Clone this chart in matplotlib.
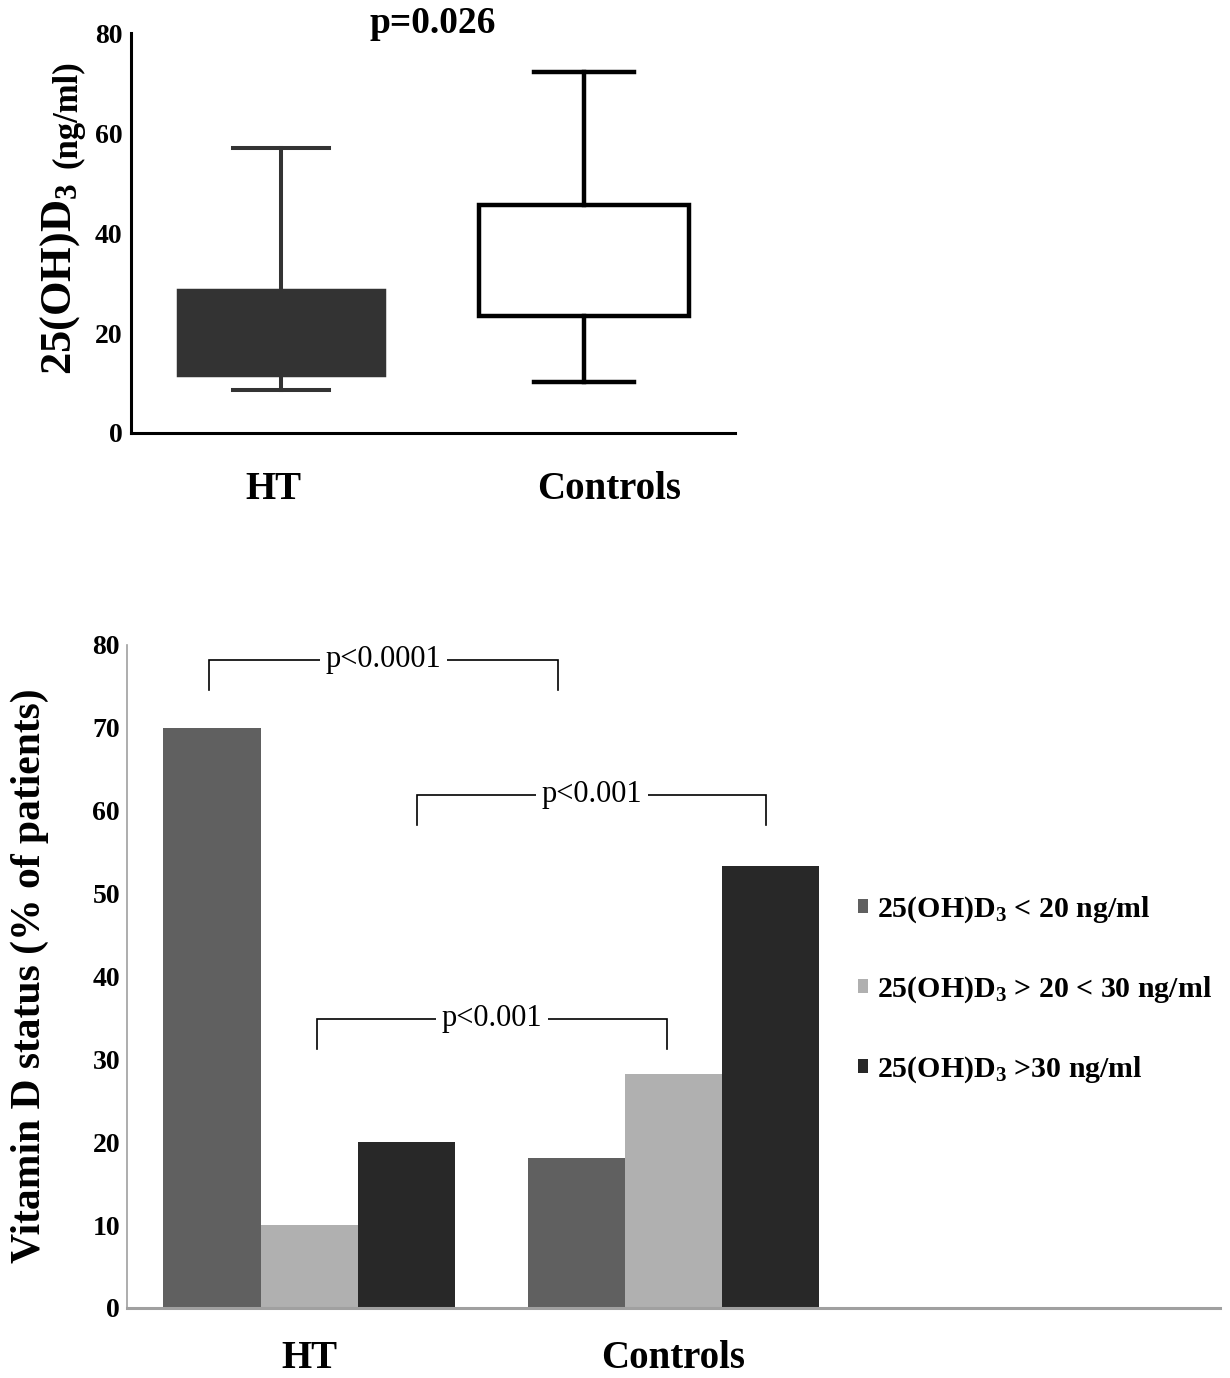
import matplotlib
matplotlib.use("Agg")
import matplotlib.pyplot as plt
from matplotlib.patches import Patch

plt.rcParams['font.family'] = ['Liberation Serif', 'DejaVu Serif']
plt.rcParams['font.weight'] = 'bold'
plt.rcParams['mathtext.fontset'] = 'custom'
plt.rcParams['mathtext.rm'] = 'Liberation Serif:bold'
plt.rcParams['mathtext.bf'] = 'Liberation Serif:bold'
plt.rcParams['mathtext.it'] = 'Liberation Serif:bold'
plt.rcParams['mathtext.default'] = 'rm'

# top panel: box plot data (ng/ml)
groups = ["HT", "Controls"]
whisker_low = [8.6, 10.2]
box_q1 = [11.6, 23.4]
box_q3 = [28.6, 45.6]
whisker_high = [57.0, 72.2]
box_p = "p=0.026"
top_ticks = [0, 20, 40, 60, 80]

# bottom panel: vitamin D status (% of patients)
status_labels = [r"25(OH)D$_3$ < 20 ng/ml",
                 r"25(OH)D$_3$ > 20 < 30 ng/ml",
                 r"25(OH)D$_3$ >30 ng/ml"]
ht_pct = [70.0, 10.0, 20.0]
ctrl_pct = [18.1, 28.2, 53.3]
bar_colors = ["#606060", "#b0b0b0", "#282828"]
bottom_ticks = [0, 10, 20, 30, 40, 50, 60, 70, 80]
# brackets: x left, x right, y top, y end, label
brackets = [(-0.275, 0.684, 78.2, 74.5, "p<0.0001"),
            (0.297, 1.255, 61.9, 58.3, "p<0.001"),
            (0.022, 0.981, 34.9, 31.2, "p<0.001")]

fig = plt.figure(figsize=(12.3, 13.78), dpi=100)

# ---------- top: box plot ----------
ax1 = fig.add_axes([0.1065, 0.6858, 0.491, 0.290])
stats = []
for i in range(len(groups)):
    stats.append({'whislo': whisker_low[i], 'q1': box_q1[i], 'med': box_q1[i],
                  'q3': box_q3[i], 'whishi': whisker_high[i], 'fliers': []})

ht = ax1.bxp([stats[0]], positions=[1], widths=[0.68], capwidths=[0.32],
             patch_artist=True, showfliers=False,
             boxprops=dict(facecolor="#333333", edgecolor="#333333", linewidth=2.5),
             whiskerprops=dict(color="#333333", linewidth=2.9),
             capprops=dict(color="#333333", linewidth=2.9),
             medianprops=dict(linewidth=0))
ctrl = ax1.bxp([stats[1]], positions=[2], widths=[0.69], capwidths=[0.33],
               patch_artist=True, showfliers=False,
               boxprops=dict(facecolor="white", edgecolor="black", linewidth=3.2),
               whiskerprops=dict(color="black", linewidth=3.2),
               capprops=dict(color="black", linewidth=3.2),
               medianprops=dict(linewidth=0))

ax1.set_xlim(0.505, 2.498)
ax1.set_ylim(0, 80)
ax1.set_yticks(top_ticks)
ax1.set_xticks([])
ax1.tick_params(axis='y', length=0, pad=6, labelsize=20)
for s in ['top', 'right']:
    ax1.spines[s].set_visible(False)
for s in ['left', 'bottom']:
    ax1.spines[s].set_linewidth(2.2)
ax1.text(0.974, -0.1425, groups[0], transform=ax1.get_xaxis_transform(),
         ha='center', va='center', fontsize=28)
ax1.text(2.083, -0.1425, groups[1], transform=ax1.get_xaxis_transform(),
         ha='center', va='center', fontsize=28)

fig.text(0.352, 0.983, box_p, ha='center', va='center', fontsize=27)
fig.text(0.0488, 1 - 375 / 1378, r"25(OH)D$_3$", rotation=90,
         ha='center', va='bottom', fontsize=32)
fig.text(0.0553, 1 - 168 / 1378, "(ng/ml)", rotation=90,
         ha='center', va='bottom', fontsize=25)

# ---------- bottom: grouped bars ----------
ax2 = fig.add_axes([0.1033, 0.0508, 0.8886, 0.4812])
bw = 0.267
x = [0, 1]
for j in range(len(status_labels)):
    vals = [ht_pct[j], ctrl_pct[j]]
    ax2.bar([xi + (j - 1) * bw for xi in x], vals, width=bw,
            color=bar_colors[j], label=status_labels[j])

ax2.set_xlim(-0.5, 2.5)
ax2.set_ylim(0, 80)
ax2.set_yticks(bottom_ticks)
ax2.set_xticks(x)
ax2.set_xticklabels(groups)
ax2.tick_params(axis='y', length=0, pad=5, labelsize=20)
ax2.tick_params(axis='x', length=0, pad=23, labelsize=28)
for s in ['top', 'right']:
    ax2.spines[s].set_visible(False)
ax2.spines['left'].set_color("#a0a0a0")
ax2.spines['left'].set_linewidth(1.2)
ax2.spines['bottom'].set_color("#a0a0a0")
ax2.spines['bottom'].set_linewidth(2.2)

for x1, x2, ytop, yend, lab in brackets:
    ax2.plot([x1, x1, x2, x2], [yend, ytop, ytop, yend], color='black',
             linewidth=1.2, solid_joinstyle='miter')
    ax2.text((x1 + x2) / 2, ytop, lab, ha='center', va='center',
             fontsize=22, fontweight='normal',
             bbox=dict(facecolor='white', edgecolor='none', pad=4))

handles = [Patch(facecolor=c, edgecolor='none') for c in bar_colors]
ax2.legend(handles, status_labels, loc='center left', bbox_to_anchor=(0.655, 0.48),
           frameon=False, fontsize=21.5, handlelength=0.35, handleheight=0.35,
           handletextpad=0.3, labelspacing=1.65, borderpad=0)

fig.text(0.0244, 1 - 976 / 1378, "Vitamin D status (% of patients)", rotation=90,
         ha='center', va='center', fontsize=30)

fig.savefig("out.png", dpi=100)
